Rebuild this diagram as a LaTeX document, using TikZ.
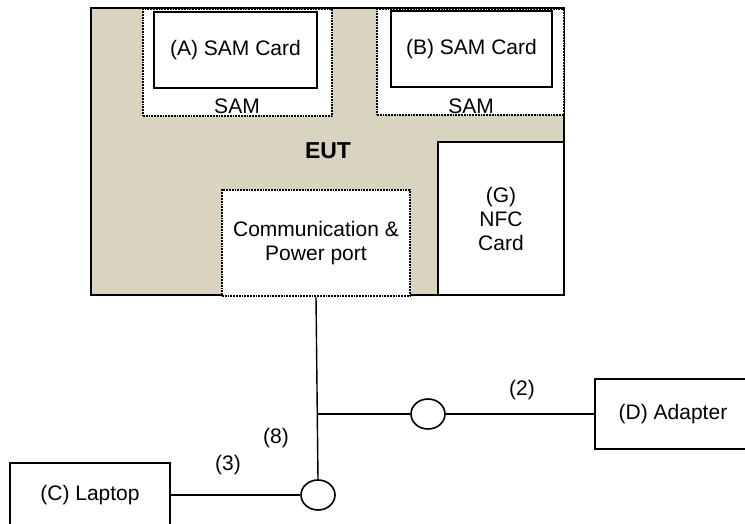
\documentclass[tikz,border=0pt]{standalone}
\usepackage{fontspec}
\setmainfont{Liberation Sans}
\usepackage{tikz}
\usetikzlibrary{shapes.geometric}
\definecolor{eutbeige}{HTML}{D9D4BF}
\tikzset{
  box/.style={draw, line width=2pt, fill=white, inner sep=0pt, align=center},
  slot/.style={draw, densely dotted, line width=1.8pt, fill=white, inner sep=0pt, align=center},
  joint/.style={draw, ellipse, line width=1.6pt, fill=white, inner sep=0pt, minimum width=34pt, minimum height=30pt},
  wire/.style={line width=1.4pt},
  txt/.style={font=\fontsize{21}{24}\selectfont},
}

\begin{document}
\begin{tikzpicture}[x=1pt, y=-1pt, txt]
            \useasboundingbox (0,0) rectangle (745,523);
            \node[draw, line width=2.6pt, fill=eutbeige, minimum width=473pt, minimum height=287pt] (eut) at (327.5,151.5) {};
            \node[slot, minimum width=189pt, minimum height=107pt] (sama) at (237.5,62.5) {};
            \node[slot, minimum width=187pt, minimum height=106pt] (samb) at (470.5,62) {};
            \node[box, minimum width=163pt, minimum height=76pt] (carda) at (235.5,50) {(A) SAM Card};
            \node[box, minimum width=161pt, minimum height=76pt] (cardb) at (471.5,49) {(B) SAM Card};
            \node (samalabel) at (237,106) {SAM};
            \node (samblabel) at (471,106) {SAM};
            \node[font=\fontsize{23}{27}\selectfont\bfseries] (eutlabel) at (328,151) {EUT};
            \node[box, minimum width=126pt, minimum height=153pt] (nfc) at (501,218.5) {(G)\\NFC\\Card};
            \node[slot, minimum width=188pt, minimum height=106pt] (port) at (316,243) {Communication \&\\Power port};
            \node[joint] (lapjoint) at (318,495) {};
            \node[joint] (adjoint) at (428,414) {};
            \node[box, minimum width=160pt, minimum height=64pt] (laptop) at (90,495) {(C) Laptop};
            \node[box, minimum width=156pt, minimum height=70pt] (adapter) at (673,414) {(D) Adapter};
            \coordinate (junc) at (317,414);
            \draw[wire] (port.south) -- (lapjoint.north);
            \draw[wire] (junc) -- (adjoint.west);
            \draw[wire] (adjoint.east) -- (adapter.west);
            \draw[wire] (laptop.east |- lapjoint.west) -- (lapjoint.west);
            \node (lbltwo) at (522,390) {(2)};
            \node (lblthree) at (228,465) {(3)};
            \node (lbleight) at (276,438) {(8)};
        \end{tikzpicture}
\end{document}
